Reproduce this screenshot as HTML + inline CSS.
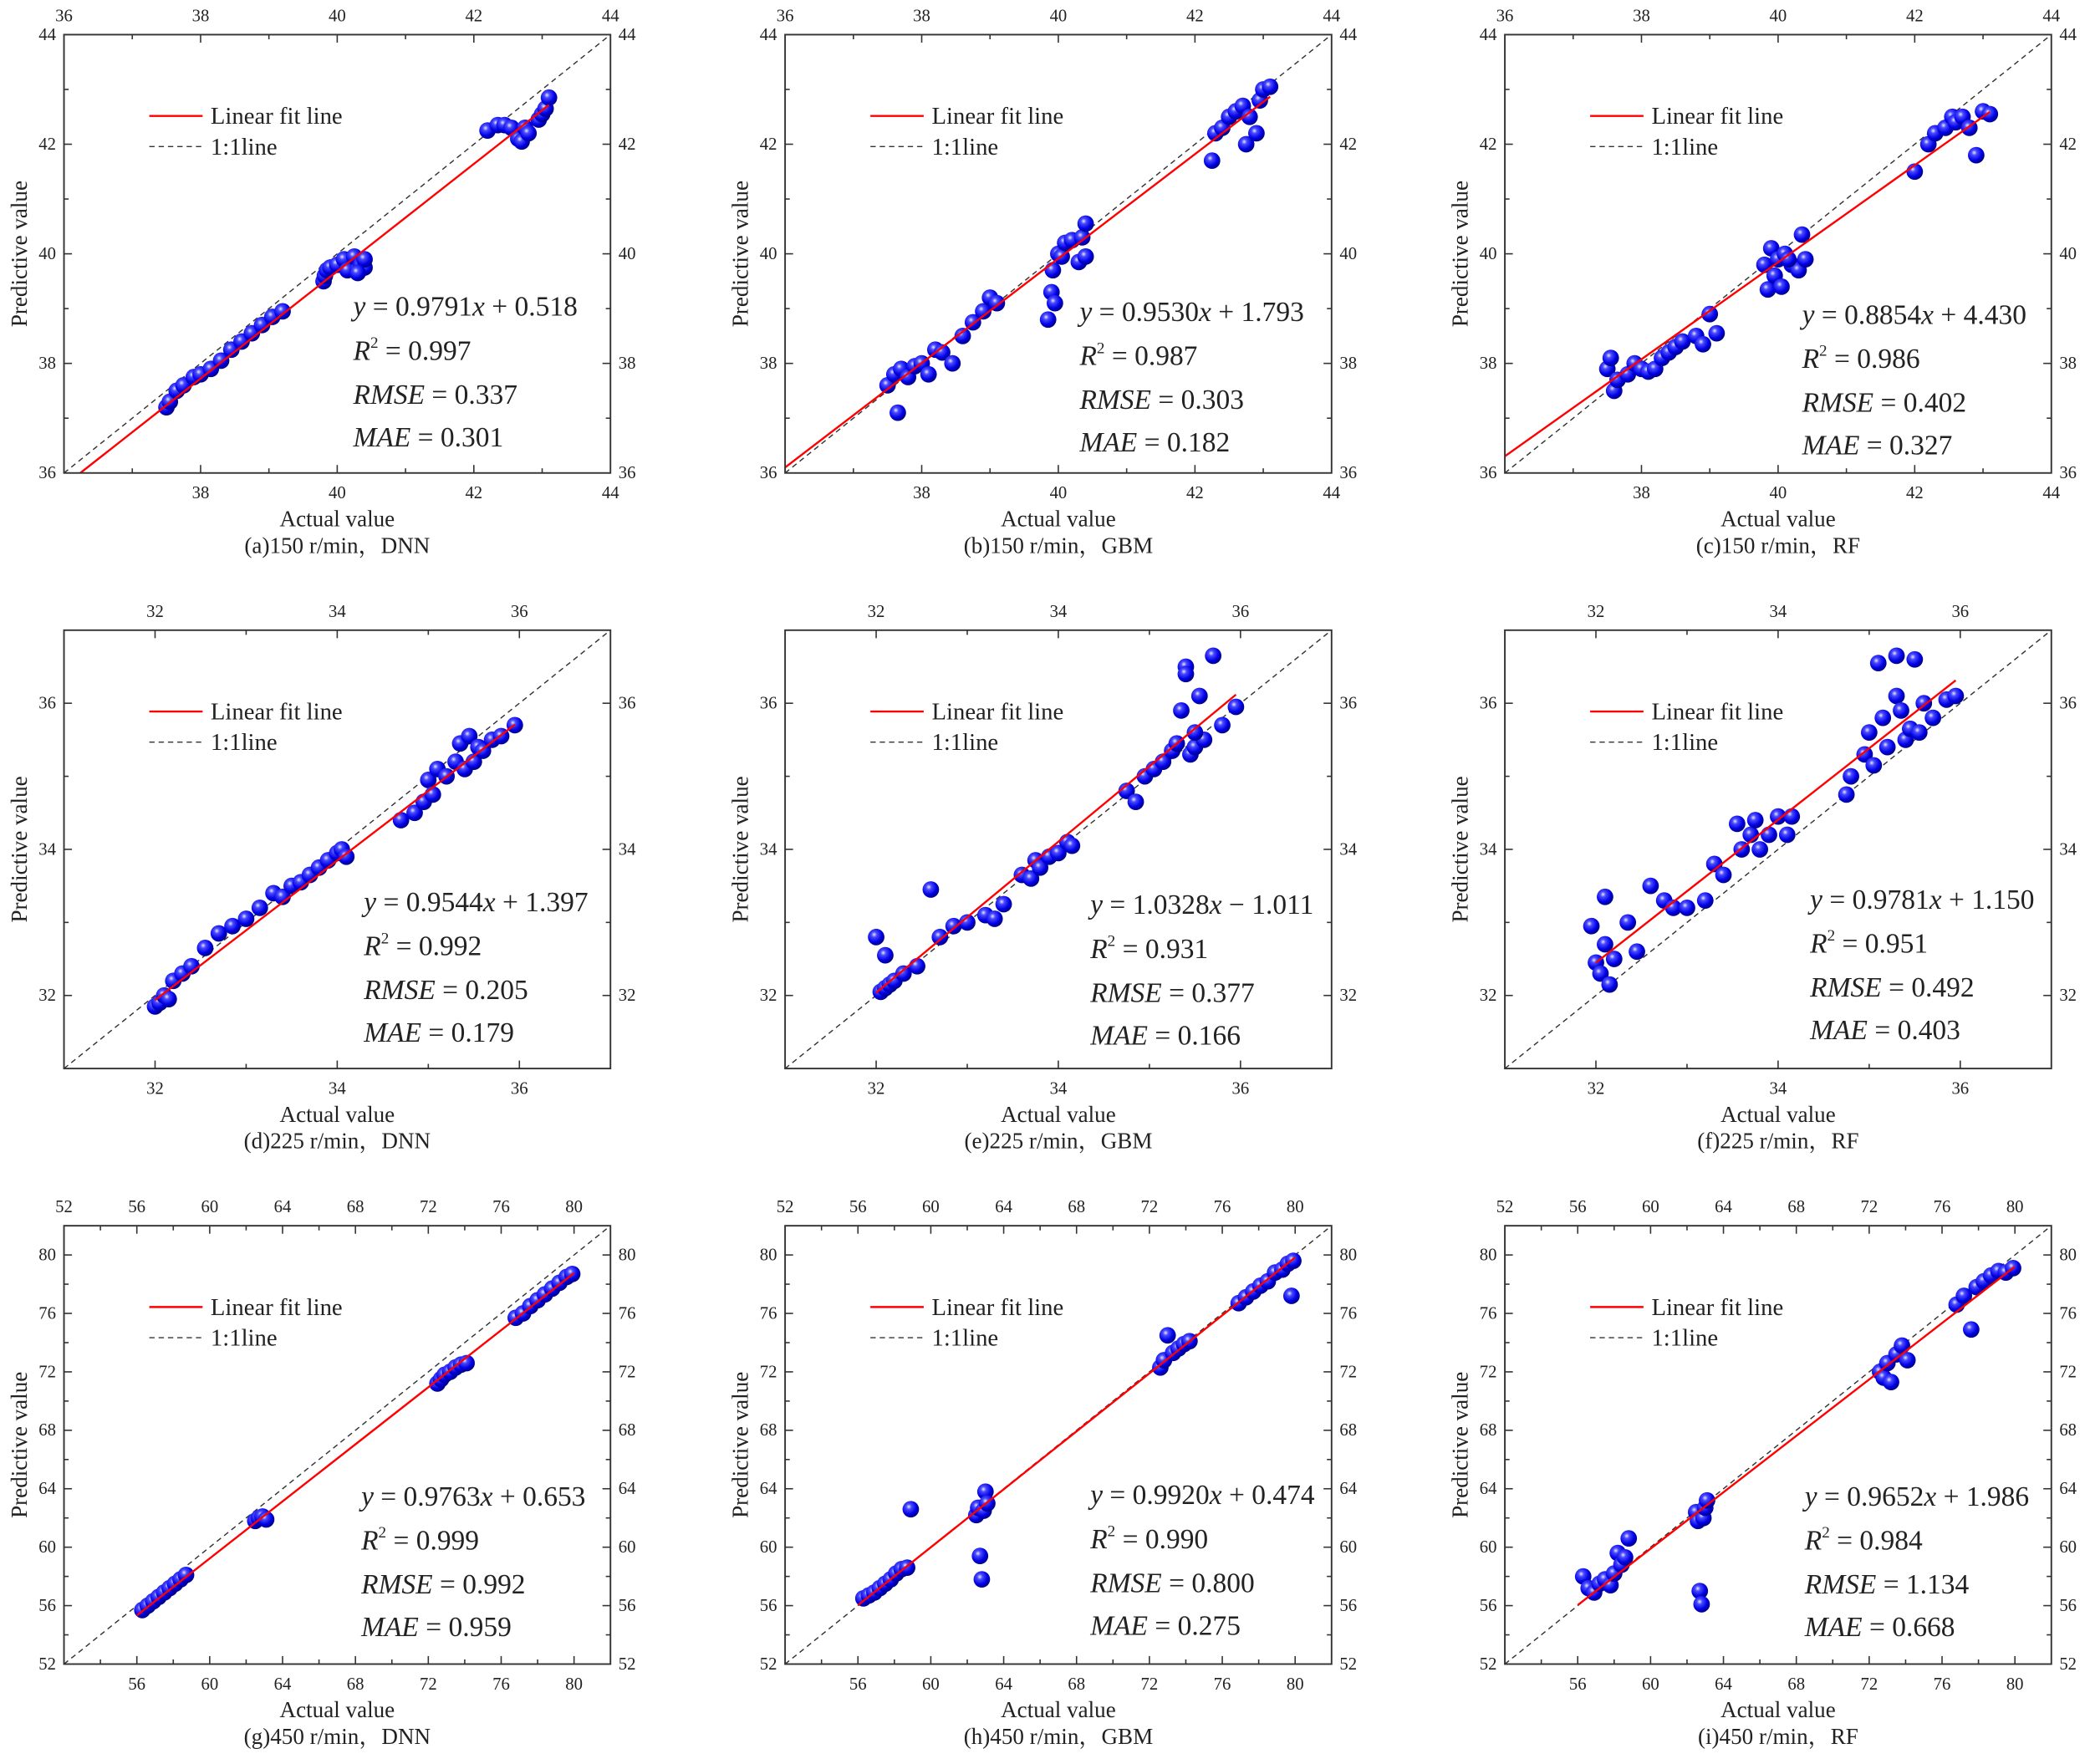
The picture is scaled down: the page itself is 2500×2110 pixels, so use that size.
<!DOCTYPE html>
<html><head><meta charset="utf-8"><style>
html,body{margin:0;padding:0;background:#fff}
svg{display:block}
svg text{font-family:"Liberation Serif","Noto Serif CJK SC",serif;fill:#222}
</style></head>
<body>
<svg id="chart" width="2500" height="2110" viewBox="0 0 1568 1324" preserveAspectRatio="none" xmlns="http://www.w3.org/2000/svg" font-family="Liberation Serif, Noto Serif CJK SC, serif">
<defs>
<radialGradient id="ball" cx="0.38" cy="0.35" r="0.65">
<stop offset="0" stop-color="#e8e8ff"/>
<stop offset="0.25" stop-color="#4a4aff"/>
<stop offset="0.7" stop-color="#0000e6"/>
<stop offset="1" stop-color="#00008a"/>
</radialGradient>
</defs>
</svg>
<script>
// ---- data ----
const aX=[37.5,37.55,37.65,37.75,37.9,38.0,38.15,38.3,38.45,38.6,38.75,38.9,39.05,39.2,39.8,39.82,39.85,39.9,40.0,40.1,40.15,40.25,40.3,40.35,40.4,40.4,40.3,42.2,42.35,42.45,42.55,42.65,42.7,42.75,42.8,42.95,43.0,43.05,43.1];
const aY=[37.2,37.3,37.5,37.6,37.75,37.8,37.9,38.05,38.25,38.4,38.55,38.7,38.85,38.95,39.5,39.6,39.7,39.75,39.8,39.9,39.7,39.95,39.7,39.8,39.75,39.9,39.65,42.25,42.35,42.35,42.3,42.1,42.05,42.3,42.2,42.45,42.55,42.65,42.85];
const bX=[37.5,37.6,37.65,37.7,37.8,37.9,38.0,38.1,38.2,38.3,38.45,38.6,38.75,38.9,39.0,39.1,39.85,39.9,39.92,39.95,40.0,40.05,40.1,40.2,40.3,40.35,40.4,40.4,42.25,42.3,42.4,42.5,42.6,42.7,42.75,42.8,42.9,42.95,43.0,43.1];
const bY=[37.6,37.8,37.1,37.9,37.75,37.95,38.0,37.8,38.25,38.2,38.0,38.5,38.75,38.95,39.2,39.1,38.8,39.3,39.7,39.1,40.0,39.95,40.2,40.25,39.85,40.3,40.55,39.95,41.7,42.2,42.3,42.5,42.6,42.7,42.0,42.5,42.2,42.8,43.0,43.05];
const cX=[37.5,37.55,37.6,37.65,37.8,37.9,38.0,38.1,38.2,38.3,38.4,38.5,38.6,38.8,38.9,39.0,39.1,39.8,39.85,39.9,39.95,40.0,40.05,40.1,40.2,40.3,40.35,40.4,40.15,42.0,42.2,42.3,42.45,42.55,42.6,42.7,42.8,42.9,43.0,43.1];
const cY=[37.9,38.1,37.5,37.7,37.8,38.0,37.9,37.85,37.9,38.1,38.2,38.3,38.4,38.5,38.35,38.9,38.55,39.8,39.35,40.1,39.6,39.9,39.4,40.0,39.8,39.7,40.35,39.9,39.9,41.5,42.0,42.2,42.3,42.5,42.4,42.5,42.3,41.8,42.6,42.55];
const dX=[32.0,32.05,32.1,32.15,32.2,32.3,32.4,32.55,32.7,32.85,33.0,33.15,33.3,33.4,33.5,33.6,33.7,33.8,33.9,34.0,34.05,34.1,34.7,34.85,34.95,35.0,35.05,35.1,35.2,35.3,35.35,35.4,35.45,35.5,35.55,35.6,35.7,35.8,35.95];
const dY=[31.85,31.9,32.0,31.95,32.2,32.3,32.4,32.65,32.85,32.95,33.05,33.2,33.4,33.35,33.5,33.55,33.65,33.75,33.85,33.95,34.0,33.9,34.4,34.5,34.65,34.95,34.75,35.1,35.0,35.2,35.45,35.1,35.55,35.2,35.4,35.35,35.5,35.55,35.7];
const eX=[32.0,32.05,32.1,32.1,32.15,32.2,32.3,32.45,32.6,32.7,32.85,33.0,33.2,33.3,33.4,33.6,33.7,33.75,33.8,33.9,34.0,34.1,34.15,34.75,34.85,34.95,35.05,35.15,35.25,35.3,35.35,35.4,35.45,35.5,35.55,35.6,35.7,35.8,35.95,35.4,35.5];
const eY=[32.8,32.05,32.55,32.1,32.15,32.2,32.3,32.4,33.45,32.8,32.95,33.0,33.1,33.05,33.25,33.65,33.6,33.85,33.75,33.9,33.95,34.1,34.05,34.8,34.65,35.0,35.1,35.2,35.35,35.45,35.9,36.5,35.3,35.4,36.1,35.5,36.65,35.7,35.95,36.4,35.6];
const fX=[31.95,32.0,32.05,32.1,32.1,32.15,32.2,32.35,32.45,32.6,32.75,32.85,33.0,33.2,33.3,33.4,33.55,33.6,33.7,33.75,33.8,33.9,34.0,34.1,34.15,34.75,34.8,34.95,35.0,35.05,35.1,35.15,35.2,35.3,35.3,35.35,35.4,35.45,35.5,35.55,35.6,35.7,35.85,35.95];
const fY=[32.95,32.45,32.3,33.35,32.7,32.15,32.5,33.0,32.6,33.5,33.3,33.2,33.2,33.3,33.8,33.65,34.35,34.0,34.2,34.4,34.0,34.2,34.45,34.2,34.45,34.75,35.0,35.3,35.6,35.15,36.55,35.8,35.4,36.65,36.1,35.9,35.5,35.65,36.6,35.6,36.0,35.8,36.05,36.1];
const gX=[56.3,56.6,56.9,57.2,57.5,57.8,58.1,58.4,58.7,62.5,62.7,62.9,63.1,72.5,72.7,72.9,73.2,73.5,73.8,74.1,76.8,77.2,77.6,78.0,78.4,78.8,79.2,79.6,79.9];
const gY=[55.7,56.0,56.3,56.6,56.9,57.2,57.5,57.8,58.1,61.8,62.0,62.1,61.9,71.2,71.5,71.8,72.0,72.3,72.5,72.6,75.7,76.0,76.5,76.9,77.3,77.7,78.1,78.5,78.7];
const hX=[56.3,56.6,56.9,57.2,57.5,57.8,58.1,58.4,58.7,58.9,62.5,62.6,62.7,62.8,62.9,63.0,63.1,72.6,72.8,73.0,73.3,73.6,73.9,74.2,76.9,77.3,77.7,78.1,78.5,78.9,79.3,79.6,79.9,79.8];
const hY=[56.5,56.7,56.9,57.2,57.5,57.8,58.2,58.5,58.6,62.6,62.2,62.7,59.4,57.8,62.5,63.8,63.0,72.3,72.8,74.5,73.3,73.6,73.9,74.1,76.7,77.1,77.5,77.9,78.2,78.8,79.0,79.4,79.6,77.2];
const iX=[56.3,56.6,56.9,57.2,57.5,57.8,58.0,58.2,58.4,58.6,58.8,62.5,62.6,62.7,62.8,62.9,63.0,63.1,72.6,72.8,73.0,73.2,73.5,73.8,74.1,76.8,77.2,77.6,77.9,78.3,78.7,79.1,79.5,79.9];
const iY=[58.0,57.2,56.9,57.5,57.8,57.4,58.2,59.6,58.8,59.3,60.6,62.4,61.8,57.0,56.1,62.0,62.7,63.2,72.0,71.6,72.6,71.3,73.2,73.8,72.8,76.6,77.2,74.9,77.8,78.2,78.6,78.9,78.8,79.1];
// fit coefficients [slope, intercept] and stats
const slopes=[0.9791,0.9530,0.8854,0.9544,1.0328,0.9781,0.9763,0.9920,0.9652];
const intercepts=[0.518,1.793,4.430,1.397,-1.011,1.150,0.653,0.474,1.986];
const r2s=["0.997","0.987","0.986","0.992","0.931","0.951","0.999","0.990","0.984"];
const rmses=["0.337","0.303","0.402","0.205","0.377","0.492","0.992","0.800","1.134"];
const maes=["0.301","0.182","0.327","0.179","0.166","0.403","0.959","0.275","0.668"];
const captions=["(a)150 r/min，DNN","(b)150 r/min，GBM","(c)150 r/min，RF","(d)225 r/min，DNN","(e)225 r/min，GBM","(f)225 r/min，RF","(g)450 r/min，DNN","(h)450 r/min，GBM","(i)450 r/min，RF"];
const fitStart=[36,36,36,32,32,32,56,56,56];
const fitEnd=[43.1,43.1,43.1,35.95,35.95,35.95,80,80,80];
const rowRanges=[[36,44],[31,37],[52,82]];
const rowMajor=[[36,38,40,42,44],[32,34,36],[52,56,60,64,68,72,76,80]];
const rowMinor=[[37,39,41,43],[31,33,35,37],[54,58,62,66,70,74,78,82]];
const allX=[aX,bX,cX,dX,eX,fX,gX,hX,iX];
const allY=[aY,bY,cY,dY,eY,fY,gY,hY,iY];

const NS="http://www.w3.org/2000/svg";
const svg=document.getElementById('chart');
function mk(tag,attrs,parent){const e=document.createElementNS(NS,tag);for(const k in attrs)e.setAttribute(k,attrs[k]);(parent||svg).appendChild(e);return e;}
const lefts=[48,589,1129], tops=[26,473,920], W=410, H=329;
const eqDx=[217,221,223,225,229,229,223,229,225];
const eqDy=[204,208,210,204,206,202,203,202,203];

for(let p=0;p<9;p++){
  const col=p%3,row=Math.floor(p/3);
  const L=lefts[col],T=tops[row],R=L+W,B=T+H;
  const [mn,mx]=rowRanges[row];
  const sx=v=>L+(v-mn)/(mx-mn)*W;
  const sy=v=>B-(v-mn)/(mx-mn)*H;
  const g=mk('g',{});
  
  
  const cp=mk('clipPath',{id:'clip'+p},g);
  mk('rect',{x:L,y:T,width:W,height:H},cp);
  const dl=mk('line',{x1:sx(mn),y1:sy(mn),x2:sx(mx),y2:sy(mx),stroke:'#333','stroke-width':0.9,'stroke-dasharray':'4,3','clip-path':'url(#clip'+p+')'},g);
  
  
  const pts=mk('g',{'clip-path':'url(#clip'+p+')'},g);
  
  
  const xs=allX[p],ys=allY[p];
  for(let k=0;k<xs.length;k++){
    const c=mk('circle',{cx:sx(xs[k]),cy:sy(ys[k]),r:6.2,fill:'url(#ball)'},pts);
    
    
  }
  let x0=fitStart[p],y0=slopes[p]*x0+intercepts[p];
  if(y0<mn){x0=(mn-intercepts[p])/slopes[p];y0=mn;}
  const x1=fitEnd[p],y1=slopes[p]*x1+intercepts[p];
  const fl=mk('line',{x1:sx(x0),y1:sy(y0),x2:sx(x1),y2:sy(y1),stroke:'#ff0000','stroke-width':1.5,'clip-path':'url(#clip'+p+')'},g);
  
  
  const fr=mk('rect',{x:L,y:T,width:W,height:H,fill:'none',stroke:'#333','stroke-width':1.2},g);
  
  
  const tk=mk('g',{stroke:'#333','stroke-width':1},g);
  
  
  const drawTicks=(vals,len)=>{vals.forEach(v=>{if(v<=mn||v>=mx)return;
    mk('line',{x1:sx(v),y1:B,x2:sx(v),y2:B-len},tk);
    mk('line',{x1:sx(v),y1:T,x2:sx(v),y2:T+len},tk);
    mk('line',{x1:L,y1:sy(v),x2:L+len,y2:sy(v)},tk);
    mk('line',{x1:R,y1:sy(v),x2:R-len,y2:sy(v)},tk);});};
  drawTicks(rowMajor[row],6);drawTicks(rowMinor[row],3.5);
  rowMajor[row].forEach(v=>{
    const tb=mk('text',{x:sx(v),y:B+19,'text-anchor':'middle','font-size':13},g);tb.textContent=v;
    if(v===mn){tb.remove();}
    
    const tt=mk('text',{x:sx(v),y:T-10,'text-anchor':'middle','font-size':13},g);tt.textContent=v;
    
    const tl=mk('text',{x:L-6,y:sy(v)+4,'text-anchor':'end','font-size':13},g);tl.textContent=v;
    
    const tr=mk('text',{x:R+6,y:sy(v)+4,'text-anchor':'start','font-size':13},g);tr.textContent=v;
    
  });
  const xt=mk('text',{x:L+205,y:B+40,'text-anchor':'middle','font-size':17},g);xt.textContent='Actual value';
  
  const cap=mk('text',{x:L+205,y:B+60,'text-anchor':'middle','font-size':17},g);cap.textContent=captions[p];
  
  const yt=mk('text',{x:0,y:0,'text-anchor':'middle','font-size':17,transform:`translate(${L-28},${T+H/2}) rotate(-90)`},g);yt.textContent='Predictive value';
  
  const lg=mk('g',{},g);
  
  mk('line',{x1:L+64,y1:T+61,x2:L+104,y2:T+61,stroke:'#ff0000','stroke-width':1.5},lg);
  const l1=mk('text',{x:L+110,y:T+67,'font-size':18},lg);l1.textContent='Linear fit line';
  
  mk('line',{x1:L+64,y1:T+84,x2:L+104,y2:T+84,stroke:'#333','stroke-width':0.9,'stroke-dasharray':'4,3'},lg);
  const l2=mk('text',{x:L+110,y:T+90,'font-size':18},lg);l2.textContent='1:1line';
  
  const ex=L+eqDx[p], ey=T+eqDy[p]+7;
  const sgn=intercepts[p]<0?'−':'+';
  const e1=mk('text',{x:ex,y:ey,'font-size':21},g);
  e1.innerHTML=`<tspan font-style="italic">y</tspan> = ${slopes[p].toFixed(4)}<tspan font-style="italic">x</tspan> ${sgn} ${Math.abs(intercepts[p]).toFixed(3)}`;
  
  const e2=mk('text',{x:ex,y:ey+33,'font-size':21},g);
  e2.innerHTML=`<tspan font-style="italic">R</tspan><tspan font-size="12" dy="-9">2</tspan><tspan dy="9"> = ${r2s[p]}</tspan>`;
  
  const e3=mk('text',{x:ex,y:ey+66,'font-size':21},g);
  e3.innerHTML=`<tspan font-style="italic">RMSE</tspan> = ${rmses[p]}`;
  
  const e4=mk('text',{x:ex,y:ey+98,'font-size':21},g);
  e4.innerHTML=`<tspan font-style="italic">MAE</tspan> = ${maes[p]}`;
  
}
</script>
</body></html>
